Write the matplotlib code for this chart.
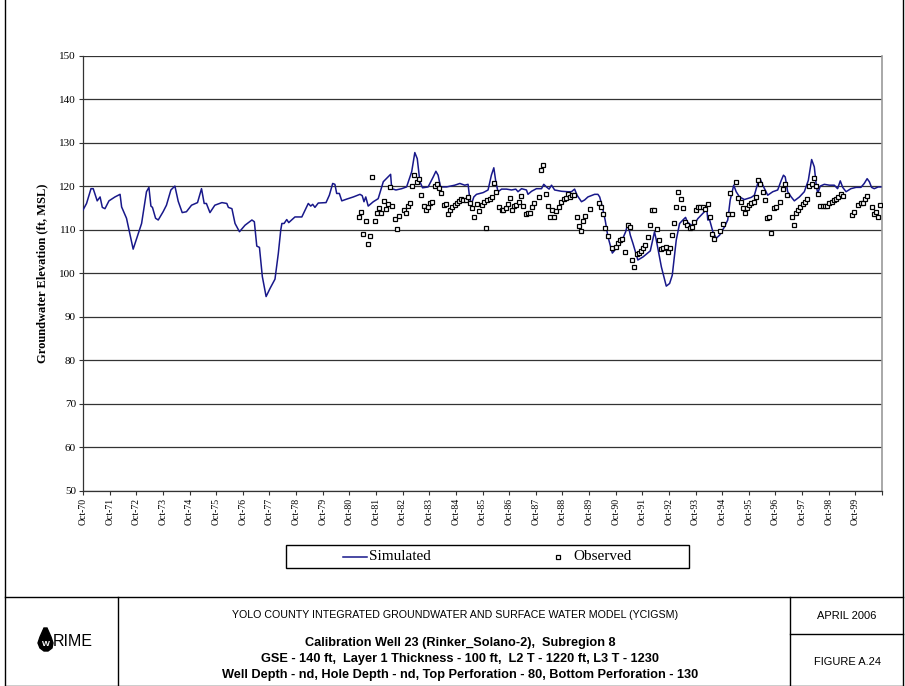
import matplotlib
matplotlib.use("Agg")
import matplotlib.pyplot as plt
from matplotlib.patches import Rectangle, Polygon
from matplotlib.lines import Line2D

# months counted from Oct-1970 (0 = Oct-70)
sim_month = [0, 1.6, 3.6, 4.6, 6.4, 7.7, 8.7, 9.9, 11.7, 14.4, 16.7, 17.4, 19.6, 22.6, 26.4, 28.6, 29.7,
             30.6, 31.3, 32.7, 33.9, 36.1, 37.6, 39.6, 41.4, 42.9, 44.7, 46.6, 48.9, 51.6, 53.4, 54.6, 55.6,
             57.2, 59.4, 62.6, 64.8, 65.5, 67.1, 68.5, 70.5, 73.0, 76.1, 77.2, 78.3, 79.5, 80.8, 82.5, 84.3,
             86.5, 88.0, 89.1, 89.6, 90.6, 91.8, 92.7, 95.5, 98.6, 101.5, 102.6, 103.5, 104.5, 106.0, 109.5,
             111.0, 112.5, 113.5, 114.3, 115.5, 116.6, 118.8, 121.8, 124.8, 125.8, 126.6, 127.4, 128.5, 130.8,
             133.0, 135.3, 138.6, 139.1, 141.0, 143.6, 145.8, 148.1, 149.5, 150.6, 151.8, 153.0, 155.5, 157.8,
             159.0, 160.0, 161.1, 163.8, 167.5, 169.8, 172.0, 173.5, 174.3, 175.1, 176.1, 177.3, 180.3, 182.5,
             184.0, 185.1, 186.0, 187.0, 188.6, 190.8, 193.1, 195.0, 196.0, 197.6, 199.8, 200.5, 202.1, 204.3,
             206.6, 207.6, 208.8, 210.0, 211.1, 212.5, 215.6, 218.5, 220.1, 221.5, 222.6, 224.6, 226.0, 227.5,
             230.5, 232.0, 232.8, 233.6, 234.3, 235.3, 236.5, 238.5, 240.3, 242.6, 244.5, 245.5, 246.6, 247.8,
             250.0, 252.3, 255.6, 257.5, 258.3, 260.6, 262.8, 264.3, 265.5, 267.3, 268.8, 270.3, 271.5, 272.2,
             274.0, 275.5, 277.0, 280.0, 281.1, 281.5, 282.3, 283.8, 285.3, 286.8, 289.0, 290.5, 291.6, 293.2,
             294.3, 295.8, 298.0, 301.1, 302.5, 304.0, 305.2, 306.3, 308.5, 310.8, 313.0, 314.6, 315.6, 316.4,
             317.5, 319.1, 320.5, 322.8, 325.0, 326.8, 328.3, 329.5, 330.3, 331.0, 332.2, 334.0, 336.3, 338.5,
             340.0, 341.2, 342.3, 343.8, 346.0, 348.3, 350.5, 352.0, 353.3, 354.3, 355.3, 356.5, 358.3, 359.5]
sim_value = [114.6, 116.1, 119.5, 119.5, 116.7, 117.6, 115.2, 114.9, 116.7, 117.6, 118.2, 115.3, 112.7, 105.6,
             111.5, 118.8, 119.8, 115.5, 115.2, 112.7, 112.3, 114.2, 115.7, 119.2, 120.1, 116.6, 114.0, 114.2,
             115.7, 116.3, 119.5, 116.1, 116.1, 114.0, 115.7, 116.3, 116.1, 115.2, 114.9, 111.5, 109.6, 111.1,
             112.3, 111.9, 106.3, 106.0, 99.3, 94.7, 96.6, 98.7, 104.6, 110.0, 111.5, 111.5, 112.4, 111.7,
             113.0, 113.0, 116.1, 115.5, 115.9, 115.2, 116.2, 116.3, 118.0, 120.7, 120.5, 118.4, 118.4, 116.7,
             117.1, 117.6, 118.2, 117.9, 116.5, 117.6, 115.5, 116.5, 117.2, 121.1, 122.8, 119.5, 119.2, 119.5,
             119.9, 123.4, 127.8, 126.4, 121.1, 119.7, 119.9, 122.2, 123.5, 122.6, 119.9, 119.9, 120.3, 120.7,
             120.3, 120.5, 117.0, 116.1, 117.6, 118.2, 118.6, 119.2, 122.6, 124.3, 121.1, 118.8, 119.4, 119.4,
             119.2, 119.4, 118.8, 119.5, 119.2, 118.2, 118.9, 119.5, 119.5, 120.5, 119.9, 119.4, 120.3, 119.2,
             118.9, 118.8, 118.8, 119.4, 118.0, 116.5, 116.9, 117.6, 118.2, 118.2, 117.6, 116.1, 114.6, 112.2,
             108.5, 104.7, 105.8, 107.3, 109.6, 111.5, 108.8, 106.9, 103.1, 103.8, 105.2, 109.6, 107.7, 101.5,
             97.1, 97.7, 99.6, 107.7, 111.5, 112.3, 112.9, 111.9, 111.1, 111.3, 112.6, 114.2, 114.7, 112.3,
             112.4, 109.6, 108.1, 108.8, 110.7, 112.3, 116.9, 120.3, 118.8, 117.6, 117.0, 117.5, 118.0, 120.7,
             121.6, 120.3, 118.0, 118.8, 119.2, 121.4, 122.6, 122.2, 118.8, 117.6, 116.7, 117.6, 118.8, 121.4,
             126.2, 124.5, 120.7, 118.4, 120.1, 120.5, 120.3, 120.3, 119.5, 121.3, 119.8, 118.8, 119.5, 119.8,
             119.8, 120.7, 121.8, 121.1, 119.8, 119.5, 119.9, 119.9]

obs_month = [124.5, 125.4, 126.3, 127.5, 128.4, 129.4, 130.3, 131.4, 132.4, 133.5, 134.4, 135.5, 136.4, 137.4,
             138.4, 139.3, 140.4, 141.4, 142.3, 144.5, 145.4, 146.4, 147.4, 148.3, 149.2, 150.4, 151.5, 152.4,
             153.5, 154.5, 155.4, 156.4, 157.3, 158.4, 159.4, 160.5, 161.4, 162.5, 163.5, 164.4, 165.4, 166.3,
             167.4, 168.4, 169.3, 170.4, 171.3, 172.4, 173.4, 174.4, 175.3, 176.2, 177.3, 178.2, 179.6, 180.6,
             181.5, 182.1, 183.3, 184.2, 185.2, 186.3, 187.5, 188.6, 189.3, 190.4, 191.4, 192.3, 193.3, 194.2,
             195.3, 196.3, 197.2, 198.3, 199.4, 200.4, 201.4, 202.5, 203.4, 205.3, 206.4, 207.3, 208.4, 209.4,
             210.4, 211.3, 212.4, 213.3, 214.3, 215.4, 216.5, 217.4, 218.4, 219.4, 220.3, 221.4, 222.4, 223.5,
             224.4, 225.5, 226.4, 228.4, 232.3, 233.4, 234.5, 235.4, 236.4, 238.3, 240.3, 241.0, 242.1, 243.0,
             244.4, 245.4, 246.4, 247.3, 248.4, 249.4, 250.5, 251.4, 252.5, 253.4, 254.4, 255.4, 256.3, 257.4,
             258.4, 259.3, 260.4, 261.5, 262.5, 263.4, 264.4, 265.5, 266.4, 267.4, 268.3, 269.4, 270.3, 271.4,
             272.3, 273.3, 274.3, 275.2, 276.3, 277.3, 278.2, 279.3, 280.4, 281.4, 282.3, 283.3, 284.4, 287.2,
             288.3, 290.4, 291.4, 292.3, 294.3, 295.3, 296.4, 297.3, 298.4, 299.3, 300.3, 301.2, 302.2, 303.3,
             304.2, 305.2, 306.3, 307.4, 308.3, 309.3, 310.2, 311.2, 312.3, 314.2, 315.3, 316.2, 317.3, 319.3,
             320.2, 321.3, 322.3, 323.2, 324.3, 325.4, 326.3, 327.3, 328.3, 329.2, 330.3, 331.3, 332.2, 333.3,
             334.4, 335.4, 336.3, 337.3, 338.4, 339.3, 340.3, 341.4, 342.4, 346.3, 347.4, 349.3, 350.4, 351.5,
             352.4, 353.4, 355.3, 356.4, 357.3, 358.3, 359.2]
obs_value = [113.1, 114.1, 109.0, 112.1, 106.8, 108.7, 122.1, 112.1, 113.8, 115.0, 113.9, 116.6, 114.9, 115.9,
             119.8, 115.5, 112.5, 110.3, 113.2, 114.5, 114.0, 115.5, 116.1, 120.2, 122.6, 121.0, 121.7, 118.0,
             115.5, 114.6, 115.2, 116.2, 116.4, 120.1, 120.6, 119.6, 118.5, 115.8, 116.0, 113.7, 114.6, 115.4,
             115.8, 116.2, 116.7, 117.1, 116.9, 116.8, 117.5, 116.2, 115.0, 113.1, 115.9, 114.4, 115.8, 116.5,
             110.5, 116.8, 117.2, 117.6, 120.8, 118.8, 115.4, 114.5, 114.6, 115.0, 115.9, 117.3, 114.5, 115.5,
             115.8, 116.5, 117.9, 115.5, 113.6, 114.0, 113.8, 115.2, 116.3, 117.6, 123.9, 124.9, 118.2, 115.5,
             112.9, 114.5, 112.9, 114.4, 115.2, 116.4, 117.2, 117.3, 118.3, 117.7, 118.1, 118.1, 112.9, 110.9,
             109.8, 112.0, 113.2, 114.9, 116.2, 115.4, 113.6, 110.5, 108.6, 105.8, 106.0, 106.9, 107.7, 107.9,
             104.9, 111.2, 110.6, 103.1, 101.5, 104.4, 104.6, 105.2, 105.8, 106.5, 108.5, 111.1, 114.5, 114.5,
             110.3, 107.7, 105.6, 105.8, 106.0, 105.0, 105.9, 108.8, 111.7, 115.2, 118.7, 117.1, 115.0, 111.9,
             111.2, 110.5, 110.7, 111.9, 114.6, 115.2, 115.2, 115.2, 114.8, 116.0, 113.1, 109.1, 107.9, 109.8,
             111.4, 113.6, 118.5, 113.7, 121.0, 117.3, 116.5, 115.0, 113.8, 115.0, 115.8, 116.2, 116.5, 117.5,
             121.5, 120.5, 118.7, 116.9, 112.7, 112.9, 109.2, 115.0, 115.2, 116.5, 119.4, 120.5, 118.0, 113.1,
             111.1, 114.0, 114.6, 115.4, 116.0, 116.5, 117.1, 120.0, 120.5, 121.9, 120.0, 118.3, 115.6, 115.6,
             115.5, 115.5, 116.2, 116.5, 116.8, 117.1, 117.5, 118.3, 117.8, 113.4, 114.2, 115.8, 116.2, 116.2,
             117.1, 117.8, 115.4, 113.7, 114.2, 113.1, 115.8]

tick_month = list(range(0, 360, 12))
tick_label = ["Oct-%02d" % ((70 + i) % 100) for i in range(30)]
y_ticks = list(range(50, 151, 10))

footer_title = "YOLO COUNTY INTEGRATED GROUNDWATER AND SURFACE WATER MODEL (YCIGSM)"
footer_lines = ["Calibration Well 23 (Rinker_Solano-2),  Subregion 8",
                "GSE - 140 ft,  Layer 1 Thickness - 100 ft,  L2 T - 1220 ft, L3 T - 1230",
                "Well Depth - nd, Hole Depth - nd, Top Perforation - 80, Bottom Perforation - 130"]

serif = "Liberation Serif"
sans = "Liberation Sans"
line_col = "#18188a"

W, H = 905, 686
fig = plt.figure(figsize=(W / 100, H / 100), dpi=100)

ax = fig.add_axes([83 / W, 1 - 491 / H, (882 - 83) / W, (491 - 56) / H])
ax.plot(sim_month, sim_value, color=line_col, lw=1.1, zorder=3)
ax.plot(obs_month, obs_value, ls="none", marker="s", ms=3.4, mfc="white", mec="black", mew=0.9, zorder=4)

ax.set_xlim(0, 360)
ax.set_ylim(50, 150)
ax.set_yticks(y_ticks)
ax.set_yticklabels([str(v) for v in y_ticks], fontsize=8, family=serif)
ax.set_xticks(tick_month + [360])
ax.set_xticklabels(tick_label + [""], rotation=90, fontsize=7, family=serif)
ax.tick_params(axis="both", direction="out", length=3, width=0.8, color="#333333", pad=2)
ax.grid(axis="y", color="#333333", lw=0.9)
ax.set_axisbelow(True)
for s in ["left", "bottom"]:
    ax.spines[s].set_color("#333333")
    ax.spines[s].set_linewidth(0.9)
ax.spines["top"].set_visible(False)
ax.spines["right"].set_color("#9a9a9a")
ax.spines["right"].set_linewidth(1.2)
ax.set_ylabel("Groundwater Elevation (ft, MSL)", fontsize=9, family=serif, fontweight="bold", labelpad=8)

# overlay in pixel coords for legend, frame and title block
ov = fig.add_axes([0, 0, 1, 1], zorder=5)
ov.set_xlim(0, W)
ov.set_ylim(H, 0)
ov.axis("off")

# legend
ov.add_patch(Rectangle((286, 545), 403, 23, fill=False, ec="black", lw=1.0))
ov.add_line(Line2D([343, 367], [557, 557], color=line_col, lw=1.1))
ov.text(369, 557, "Simulated", fontsize=11, family=serif, va="center", ha="left")
ov.plot([558], [557], ls="none", marker="s", ms=3.4, mfc="white", mec="black", mew=0.9)
ov.text(573, 557, "Observed", fontsize=11, family=serif, va="center", ha="left")

# frame
lk = dict(color="black", lw=1.0)
ov.add_line(Line2D([5, 5], [0, 686], **lk))
ov.add_line(Line2D([903, 903], [0, 686], **lk))
ov.add_line(Line2D([5, 903], [685.5, 685.5], **lk))
ov.add_line(Line2D([5, 903], [597, 597], **lk))
ov.add_line(Line2D([118, 118], [597, 686], **lk))
ov.add_line(Line2D([790, 790], [597, 686], **lk))
ov.add_line(Line2D([790, 903], [634, 634], **lk))

# title block text
ov.text(455, 615, footer_title, fontsize=7.7, family=sans, ha="center", va="center")
for yy, s in zip([643, 659, 675], footer_lines):
    ov.text(460, yy, s, fontsize=9.2, family=sans, fontweight="bold", ha="center", va="center")
ov.text(847, 616, "APRIL 2006", fontsize=8, family=sans, ha="center", va="center")
ov.text(847, 662, "FIGURE A.24", fontsize=8, family=sans, ha="center", va="center")

# logo
ov.add_patch(Polygon([[44, 628], [40, 637], [38, 643], [40, 648], [44, 651], [48, 651], [52, 648],
                      [53, 643], [51, 637], [47, 628]], closed=True, fc="black", ec="black"))
ov.text(45.8, 644, "W", fontsize=6, color="white", family=sans, fontweight="bold",
        ha="center", va="center")
ov.text(53, 641, "RIME", fontsize=11.5, family=sans, ha="left", va="center")

fig.savefig("out.png", dpi=100)
